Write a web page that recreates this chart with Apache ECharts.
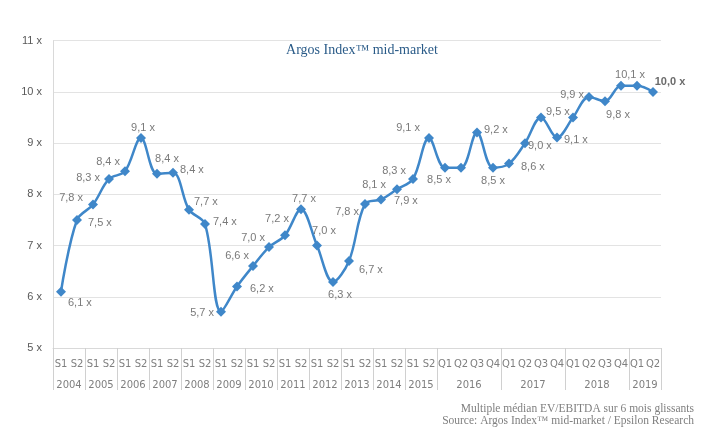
<!DOCTYPE html>
<html>
<head>
<meta charset="utf-8">
<script src="https://cdn.jsdelivr.net/npm/echarts@6/dist/echarts.min.js"></script>
<style>html,body{margin:0;padding:0;background:#fff}#c{width:712px;height:437px}</style>
</head>
<body>
<div id="c"></div>
<script>
// ---- data ----
var periods = ['S1','S2','S1','S2','S1','S2','S1','S2','S1','S2','S1','S2','S1','S2','S1','S2','S1','S2','S1','S2','S1','S2','S1','S2',
  'Q1','Q2','Q3','Q4','Q1','Q2','Q3','Q4','Q1','Q2','Q3','Q4','Q1','Q2'];
var values = [6.1,7.5,7.8,8.3,8.45,9.1,8.4,8.42,7.7,7.42,5.71,6.2,6.6,6.97,7.2,7.71,7.0,6.29,6.7,7.81,7.9,8.1,8.3,9.1,
  8.52,8.52,9.21,8.52,8.6,9.0,9.5,9.11,9.5,9.9,9.82,10.12,10.12,10.0];
var valueLabels = ['6,1 x','7,5 x','7,8 x','8,3 x','8,4 x','9,1 x','8,4 x','8,4 x','7,7 x','7,4 x','5,7 x','6,2 x','6,6 x','7,0 x','7,2 x','7,7 x','7,0 x','6,3 x','6,7 x','7,8 x','7,9 x','8,1 x','8,3 x','9,1 x',
  '8,5 x','','9,2 x','8,5 x','8,6 x','9,0 x','9,5 x','9,1 x','','9,9 x','9,8 x','10,1 x','','10,0 x'];
var years = ['2004','2005','2006','2007','2008','2009','2010','2011','2012','2013','2014','2015','2016','2017','2018','2019'];
var yearSpans = [2,2,2,2,2,2,2,2,2,2,2,2,4,4,4,2];
var yTicks = [5,6,7,8,9,10,11];

// ---- label placement (style only) ----
var place = [
  ['right',2,11],['right',6,3],['left',-5,-7],['left',-4,-1],['left',0,-9],['top',2,0],['top',10,-4],['right',2,-3],
  ['right',0,-8],['right',3,-2],['left',-2,1],['right',8,2],['left',1,-10],['left',1,-9],['top',-8,-6],['top',3,0],
  ['top',7,-4],['bottom',7,3],['right',5,9],['left',-1,8],['right',8,1],['left',-6,-4],['left',-2,-8],['left',-4,-10],
  ['bottom',-6,2],null,['right',2,-2],['bottom',0,3],['right',7,3],['right',-2,3],['right',0,-6],['right',2,2],
  null,['left',0,-2],['bottom',13,3],['top',9,0],null,['top',17,1]
];

var boundaries = [0];
var centers = [];
var acc = 0;
for (var i = 0; i < yearSpans.length; i++) {
  centers.push(acc + yearSpans[i] / 2);
  acc += yearSpans[i];
  boundaries.push(acc);
}

var seriesData = values.map(function (v, i) {
  var p = place[i];
  var item = { value: v };
  if (!p || !valueLabels[i]) {
    item.label = { show: false };
  } else {
    item.label = { show: true, position: p[0], offset: [p[1], p[2]], formatter: valueLabels[i] };
    if (i === values.length - 1) {
      item.label.fontWeight = 'bold';
      item.label.color = '#6b6b6b';
    }
  }
  return item;
});

var chart = echarts.init(document.getElementById('c'));
chart.setOption({
  animation: false,
  backgroundColor: '#fff',
  title: {
    text: 'Argos Index\u2122 mid-market',
    left: 357, top: 38, textAlign: 'center',
    textStyle: { fontFamily: 'Liberation Serif', fontWeight: 'normal', fontSize: 14, color: '#2a5b88' }
  },
  grid: { left: 53, right: 51, top: 40.7, bottom: 89, containLabel: false },
  xAxis: [{
    type: 'category',
    data: periods,
    boundaryGap: true,
    axisLine: { lineStyle: { color: '#d9d9d9', width: 1 } },
    axisTick: { show: false },
    axisLabel: { interval: 0, margin: 11, fontSize: 10, color: '#7f7f7f', fontFamily: 'DejaVu Sans' },
    splitLine: { show: false }
  }, {
    type: 'value',
    min: 0, max: 38,
    position: 'bottom',
    axisLine: { show: false },
    axisTick: { show: true, customValues: boundaries, length: 42, lineStyle: { color: '#d0d0d0' } },
    axisLabel: {
      customValues: centers, margin: 32, fontSize: 10, color: '#7f7f7f', fontFamily: 'DejaVu Sans',
      formatter: function (v) { var k = centers.indexOf(v); return k >= 0 ? years[k] : ''; }
    },
    splitLine: { show: false }
  }],
  yAxis: {
    type: 'value',
    min: yTicks[0], max: yTicks[yTicks.length - 1], interval: 1,
    axisLine: { show: true, lineStyle: { color: '#d9d9d9' } },
    axisTick: { show: false },
    axisLabel: { margin: 11, fontSize: 11, color: '#595959', fontFamily: 'Liberation Sans', formatter: '{value} x' },
    splitLine: { lineStyle: { color: '#e3e3e3', width: 1 } }
  },
  series: [{
    type: 'line',
    xAxisIndex: 0,
    data: seriesData,
    smooth: 0.35,
    symbol: 'diamond',
    symbolSize: 10,
    lineStyle: { color: '#3f87c9', width: 2.5 },
    itemStyle: { color: '#3f87c9' },
    label: { fontSize: 11, color: '#7a7a7a', fontFamily: 'Liberation Sans', distance: 0 },
    z: 3
  }],
  graphic: [
    { type: 'text', right: 18, top: 403, style: { text: 'Multiple m\u00e9dian EV/EBITDA sur 6 mois glissants', font: '11.5px "Liberation Serif"', fill: '#7f7f7f', textAlign: 'right' } },
    { type: 'text', right: 18, top: 415, style: { text: 'Source: Argos Index\u2122 mid-market / Epsilon Research', font: '11.5px "Liberation Serif"', fill: '#7f7f7f', textAlign: 'right' } }
  ]
});
</script>
</body>
</html>
